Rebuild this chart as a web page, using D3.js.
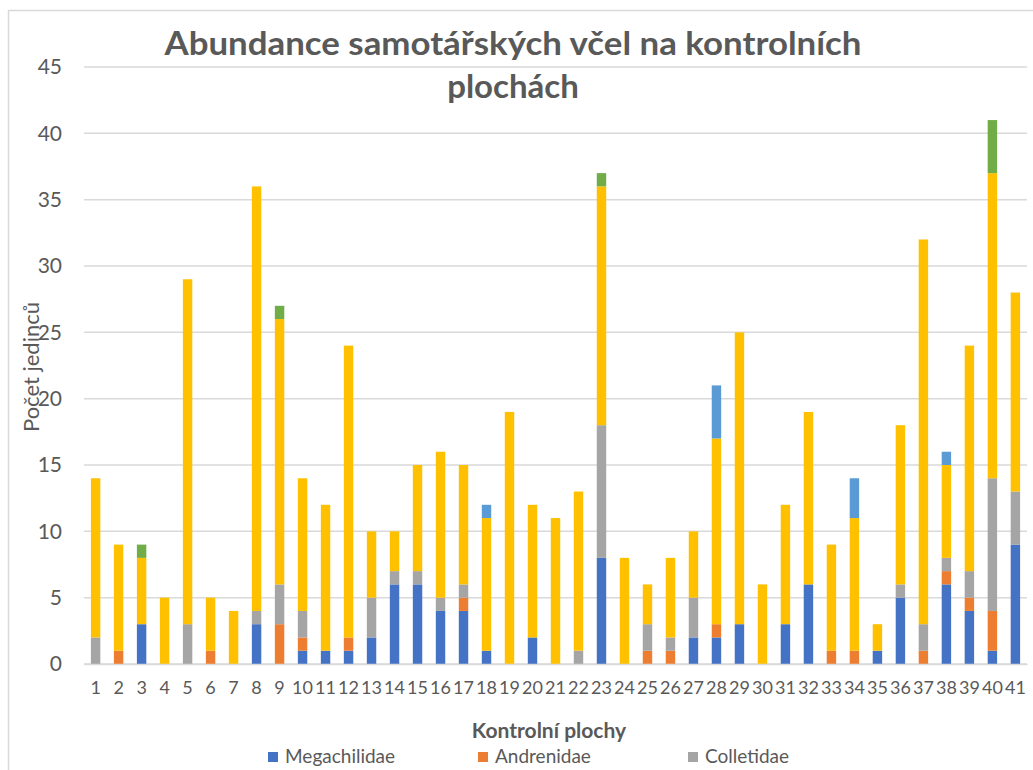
<!DOCTYPE html>
<html lang="cs">
  <head>
    <meta charset="utf-8">
    <title>Abundance samotářských včel</title>
    <script src="https://d3js.org/d3.v7.min.js"></script>
    <style>
      body { margin: 0; background: #fff; }
      text { font-family: Lato, "Open Sans", sans-serif; fill: #595959; }
    </style>
  </head>

  <body>

  <script>

// data
  var plochy = d3.range(1, 42).map(String);

  var megachilidae = [0,0,3,0,0,0,0,3,0,1, 1,1,2,6,6,4,4,1,0,2, 0,0,8,0,0,0,2,2,3,0, 3,6,0,0,1,5,0,6,4,1, 9];
  var andrenidae   = [0,1,0,0,0,1,0,0,3,1, 0,1,0,0,0,0,1,0,0,0, 0,0,0,0,1,1,0,1,0,0, 0,0,1,1,0,0,1,1,1,3, 0];
  var colletidae   = [2,0,0,0,3,0,0,1,3,2, 0,0,3,1,1,1,1,0,0,0, 0,1,10,0,2,1,3,0,0,0, 0,0,0,0,0,1,2,1,2,10, 4];
  var halictidae   = [12,8,5,5,26,4,4,32,20,10, 11,22,5,3,8,11,9,10,19,10, 11,12,18,8,3,6,5,14,22,6, 9,13,8,10,2,12,29,7,17,23, 15];
  var apidae       = [0,0,0,0,0,0,0,0,0,0, 0,0,0,0,0,0,0,1,0,0, 0,0,0,0,0,0,0,4,0,0, 0,0,0,3,0,0,0,1,0,0, 0];
  var melittidae   = [0,0,1,0,0,0,0,0,1,0, 0,0,0,0,0,0,0,0,0,0, 0,0,1,0,0,0,0,0,0,0, 0,0,0,0,0,0,0,0,0,4, 0];

  var seriesNames = ["Megachilidae", "Andrenidae", "Colletidae", "Halictidae", "Apidae", "Melittidae"];
  var seriesValues = [megachilidae, andrenidae, colletidae, halictidae, apidae, melittidae];
  var colors = ["#4472C4", "#ED7D31", "#A5A5A5", "#FFC000", "#5B9BD5", "#70AD47"];
  var yTicks = [0, 5, 10, 15, 20, 25, 30, 35, 40, 45];
  // only the first legend row is inside the picture
  var legendShown = seriesNames.slice(0, 3);

  var w = 1033;
  var h = 770;
  var margin = {top: 67, right: 6, bottom: 106, left: 84};

  var table = plochy.map(function(p, i) {
      var row = {plocha: p};
      seriesNames.forEach(function(s, j) { row[s] = seriesValues[j][i]; });
      return row;
  });

  var svg = d3.select("body")
    .append("svg")
      .attr("width", w)
      .attr("height", h);

  svg.append("rect")
      .attr("x", 8.5)
      .attr("y", 10.5)
      .attr("width", w + 10)
      .attr("height", h + 10)
      .attr("fill", "#fff")
      .attr("stroke", "#d9d9d9")
      .attr("stroke-width", 1.5);

  var xScale = d3.scaleBand()
      .domain(plochy)
      .range([margin.left, w - margin.right])
      .paddingInner(0.59)
      .paddingOuter(0.3);

  var yScale = d3.scaleLinear()
      .domain([0, 45])
      .range([h - margin.bottom, margin.top]);

  // gridlines
  svg.append("g")
    .selectAll("line")
      .data(yTicks)
    .enter().append("line")
      .attr("x1", margin.left)
      .attr("x2", w - margin.right)
      .attr("y1", d => yScale(d))
      .attr("y2", d => yScale(d))
      .attr("stroke", "#d9d9d9")
      .attr("stroke-width", 1.5);

  var stack = d3.stack().keys(seriesNames);
  var layers = stack(table);

  svg.append("g")
    .selectAll("g")
      .data(layers)
    .enter().append("g")
      .attr("fill", (d, i) => colors[i])
    .selectAll("rect")
      .data(d => d)
    .enter().append("rect")
      .attr("x", d => xScale(d.data.plocha))
      .attr("width", xScale.bandwidth())
      .attr("y", d => yScale(d[1]))
      .attr("height", d => yScale(d[0]) - yScale(d[1]));

  var yAxis = d3.axisLeft(yScale)
      .tickValues(yTicks)
      .tickSize(0)
      .tickPadding(22);

  var gy = svg.append("g")
      .attr("transform", `translate (${margin.left}, 0)`)
      .call(yAxis);
  gy.select(".domain").remove();
  gy.selectAll("text")
      .style("font-size", "21px")
      .attr("fill", "#595959");

  var xAxis = d3.axisBottom(xScale)
      .tickSize(0)
      .tickPadding(17);

  var gx = svg.append("g")
      .attr("transform", `translate (0, ${h - margin.bottom})`)
      .call(xAxis);
  gx.select(".domain")
      .attr("stroke", "#d9d9d9")
      .attr("stroke-width", 1.5);
  gx.selectAll("text")
      .style("font-size", "18px")
      .attr("fill", "#595959");

  // title
  var title = svg.append("text")
      .attr("text-anchor", "middle")
      .style("font-size", "33px")
      .style("font-weight", "bold");
  title.append("tspan")
      .attr("x", 513)
      .attr("y", 55)
      .attr("textLength", 697)
      .attr("lengthAdjust", "spacingAndGlyphs")
      .text("Abundance samotářských včel na kontrolních");
  title.append("tspan")
      .attr("x", 513)
      .attr("y", 98)
      .text("plochách");

  svg.append("text")
      .attr("transform", "translate(39, 367) rotate(-90)")
      .attr("text-anchor", "middle")
      .style("font-size", "22px")
      .text("Počet jedinců");

  svg.append("text")
      .attr("x", 549)
      .attr("y", 738)
      .attr("text-anchor", "middle")
      .style("font-size", "21px")
      .style("font-weight", "bold")
      .text("Kontrolní plochy");

  var legend = svg.append("g")
    .selectAll("g")
      .data(legendShown)
    .enter().append("g")
      .attr("transform", (d, i) => `translate(${268 + i * 210}, 757)`);

  legend.append("rect")
      .attr("x", 0)
      .attr("y", -5)
      .attr("width", 10)
      .attr("height", 10)
      .attr("fill", (d, i) => colors[i]);

  legend.append("text")
      .attr("x", 17)
      .attr("y", 6)
      .style("font-size", "19px")
      .text(d => d);

    </script>

  </body>

</html>
